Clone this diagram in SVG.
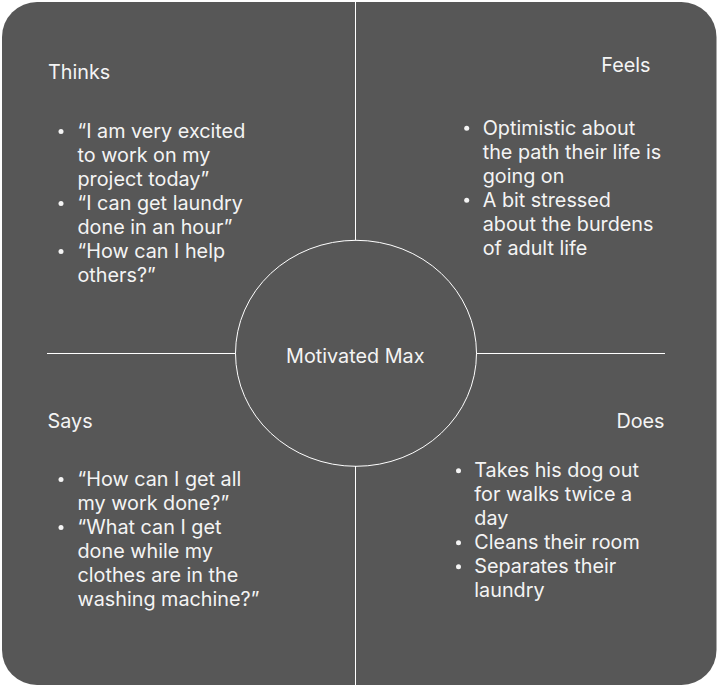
<svg xmlns="http://www.w3.org/2000/svg" width="719" height="688" viewBox="0 0 719 688">
<style>
text{font-family:Inter,"Noto Sans","Liberation Sans",sans-serif;font-size:19.8px;fill:#f4f4f4}
.ln{stroke:#ffffff;stroke-width:1;fill:none}
.b{fill:#f4f4f4}
.end{text-anchor:end}
.mid{text-anchor:middle}
</style>
<rect x="0" y="0" width="719" height="688" fill="#ffffff"/>
<rect id="board" x="2" y="2" width="714.5" height="683" rx="35" ry="35" fill="#575757"/>
<g id="connectors">
<line class="ln" x1="355.5" y1="2" x2="355.5" y2="240"/>
<line class="ln" x1="355.5" y1="466" x2="355.5" y2="685"/>
<line class="ln" x1="47" y1="353.5" x2="235.5" y2="353.5"/>
<line class="ln" x1="476.5" y1="353.5" x2="665" y2="353.5"/>
</g>
<g id="center">
<ellipse class="ln" cx="356" cy="353.3" rx="120.5" ry="113"/>
<text class="mid" x="355.3" y="362.7">Motivated Max</text>
</g>
<g id="thinks">
<text x="48" y="79">Thinks</text>
<circle class="b" cx="61" cy="131.5" r="2.5"/>
<circle class="b" cx="61" cy="203.5" r="2.5"/>
<circle class="b" cx="61" cy="251.5" r="2.5"/>
<text x="77.5" y="138">“I am very excited</text>
<text x="77.5" y="162">to work on my</text>
<text x="77.5" y="186">project today”</text>
<text x="77.5" y="210">“I can get laundry</text>
<text x="77.5" y="234">done in an hour”</text>
<text x="77.5" y="258">“How can I help</text>
<text x="77.5" y="282">others?”</text>
</g>
<g id="feels">
<text class="end" x="650.5" y="72">Feels</text>
<circle class="b" cx="466.7" cy="128.3" r="2.5"/>
<circle class="b" cx="466.7" cy="200.3" r="2.5"/>
<text x="482.7" y="134.5">Optimistic about</text>
<text x="482.7" y="158.5">the path their life is</text>
<text x="482.7" y="182.5">going on</text>
<text x="482.7" y="206.5">A bit stressed</text>
<text x="482.7" y="230.5">about the burdens</text>
<text x="482.7" y="254.5">of adult life</text>
</g>
<g id="says">
<text x="47.5" y="428.3">Says</text>
<circle class="b" cx="61" cy="479.5" r="2.5"/>
<circle class="b" cx="61" cy="527.5" r="2.5"/>
<text x="77.5" y="486">“How can I get all</text>
<text x="77.5" y="510">my work done?”</text>
<text x="77.5" y="534">“What can I get</text>
<text x="77.5" y="558">done while my</text>
<text x="77.5" y="582">clothes are in the</text>
<text x="77.5" y="606">washing machine?”</text>
</g>
<g id="does">
<text class="end" x="664.5" y="428.3">Does</text>
<circle class="b" cx="458.5" cy="470.8" r="2.5"/>
<circle class="b" cx="458.5" cy="542.8" r="2.5"/>
<circle class="b" cx="458.5" cy="566.8" r="2.5"/>
<text x="474.3" y="477.3">Takes his dog out</text>
<text x="474.3" y="501.3">for walks twice a</text>
<text x="474.3" y="525.3">day</text>
<text x="474.3" y="549.3">Cleans their room</text>
<text x="474.3" y="573.3">Separates their</text>
<text x="474.3" y="597.3">laundry</text>
</g>
</svg>
